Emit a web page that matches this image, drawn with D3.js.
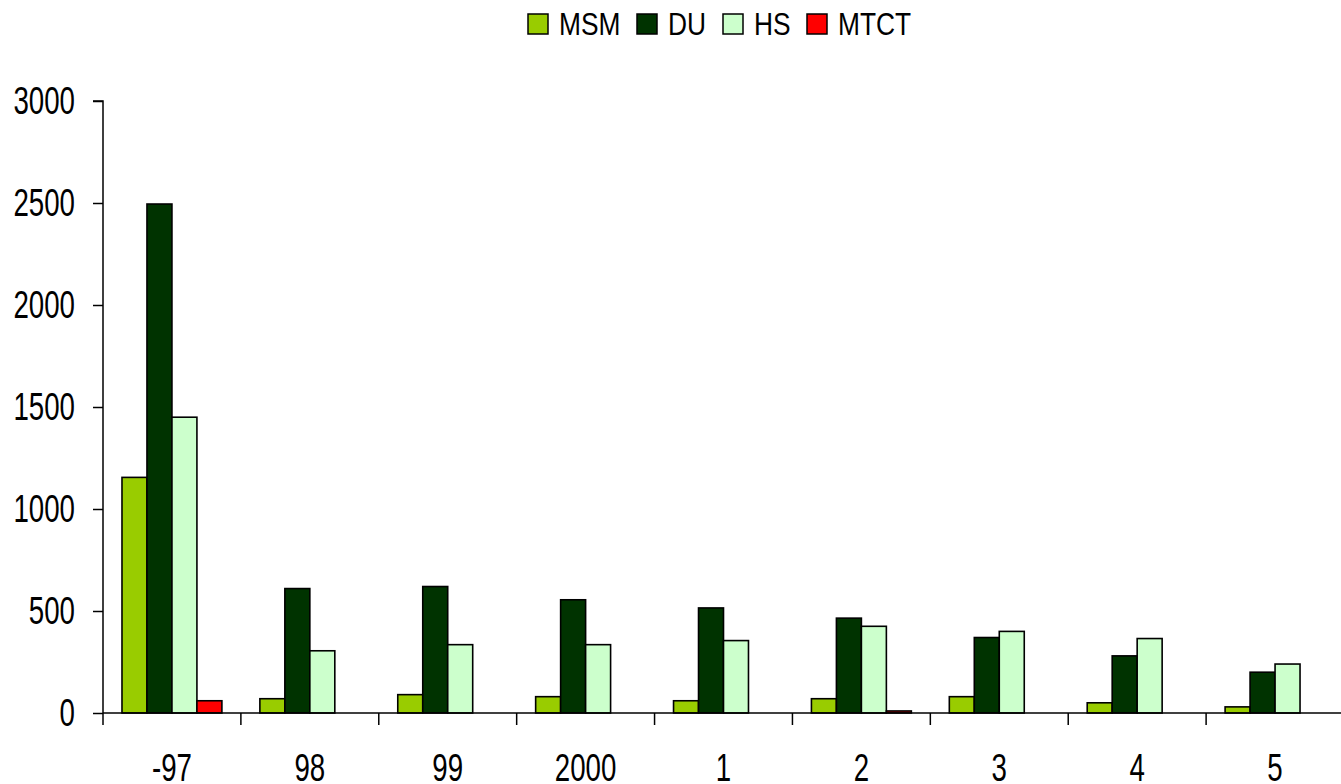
<!DOCTYPE html>
<html><head><meta charset="utf-8">
<script src="https://cdn.jsdelivr.net/npm/d3@7/dist/d3.min.js"></script>
<style>
html,body{margin:0;padding:0;background:#fff;}
svg{display:block;}
text{font-family:"Liberation Sans",Arial,sans-serif;fill:#000;}
</style></head>
<body>
<svg id="chart" width="1341" height="784"></svg>
<script>
const categories = ["-97","98","99","2000","1","2","3","4","5"];
const seriesNames = ["MSM","DU","HS","MTCT"];
const seriesColors = ["#99CC00","#003300","#CCFFCC","#FF0000"];
const MSM  = [1155, 70, 90, 80, 60, 70, 80, 50, 30];
const DU   = [2495, 610, 620, 555, 515, 465, 370, 280, 200];
const HS   = [1450, 305, 335, 335, 355, 425, 400, 365, 240];
const MTCT = [60, 0, 0, 0, 0, 10, 0, 0, 0];
const yTicks = [0, 500, 1000, 1500, 2000, 2500, 3000];
const seriesValues = [MSM, DU, HS, MTCT];

(function(){
const svg = d3.select("#chart");
const mLeft = 103, mRight = 1344, mTop = 101, mBottom = 713;
const sx = 0.85, fs = 31;      // legend
const asx = 0.71, afs = 39;    // axis labels

const x = d3.scaleBand().domain(categories).range([mLeft, mRight]).paddingInner(0).paddingOuter(0);
const inner = d3.scaleBand().domain(seriesNames).range([0, x.bandwidth()]).paddingOuter(0.76).paddingInner(0);
const y = d3.scaleLinear().domain([0, 3000]).range([mBottom, mTop]);

// bars
seriesNames.forEach((s, si) => {
  svg.append("g").selectAll("rect")
    .data(categories.map((c, i) => ({c, v: seriesValues[si][i]})).filter(d => d.v > 0))
    .join("rect")
    .attr("x", d => x(d.c) + inner(s))
    .attr("y", d => y(d.v))
    .attr("width", inner.bandwidth())
    .attr("height", d => y(0) - y(d.v))
    .attr("fill", seriesColors[si])
    .attr("stroke", "#000")
    .attr("stroke-width", 1.6);
});

// y axis
const yAxis = d3.axisLeft(y).tickValues(yTicks).tickSize(10).tickPadding(18).tickFormat(d3.format("d"));
const gy = svg.append("g").attr("transform", `translate(${mLeft},0)`).call(yAxis);
gy.select(".domain").attr("stroke", "#000").attr("stroke-width", 1.5).attr("d", `M-10,${mTop}H0V${mBottom}`);
gy.selectAll(".tick line").attr("stroke", "#000").attr("stroke-width", 1.5);
gy.selectAll(".tick text").attr("font-size", afs).attr("font-family", null)
  .attr("x", 0).attr("transform", `translate(-28,0) scale(${asx},1)`);

// x axis
const boundaries = categories.map(c => x(c));
const gx = svg.append("g").attr("transform", `translate(0,${mBottom})`);
gx.append("line").attr("x1", mLeft).attr("x2", 1341).attr("y1", 0).attr("y2", 0).attr("stroke", "#000").attr("stroke-width", 1.5);
gx.selectAll("line.tk").data(boundaries).join("line").attr("class", "tk")
  .attr("x1", d => d).attr("x2", d => d).attr("y1", 0).attr("y2", 12)
  .attr("stroke", "#000").attr("stroke-width", 1.5);
gx.selectAll("text").data(categories).join("text")
  .attr("transform", d => `translate(${x(d) + x.bandwidth() / 2},68) scale(${asx},1)`)
  .attr("text-anchor", "middle")
  .attr("font-size", afs)
  .text(d => d);

// legend
const legendX = [528, 637, 723, 807];
const lg = svg.append("g");
seriesNames.forEach((s, i) => {
  lg.append("rect").attr("x", legendX[i]).attr("y", 14).attr("width", 20).attr("height", 20)
    .attr("fill", seriesColors[i]).attr("stroke", "#000").attr("stroke-width", 1.5);
  lg.append("text").attr("transform", `translate(${legendX[i] + 31},35) scale(${sx},1)`)
    .attr("font-size", fs).text(s);
});
})();
</script>
</body></html>
